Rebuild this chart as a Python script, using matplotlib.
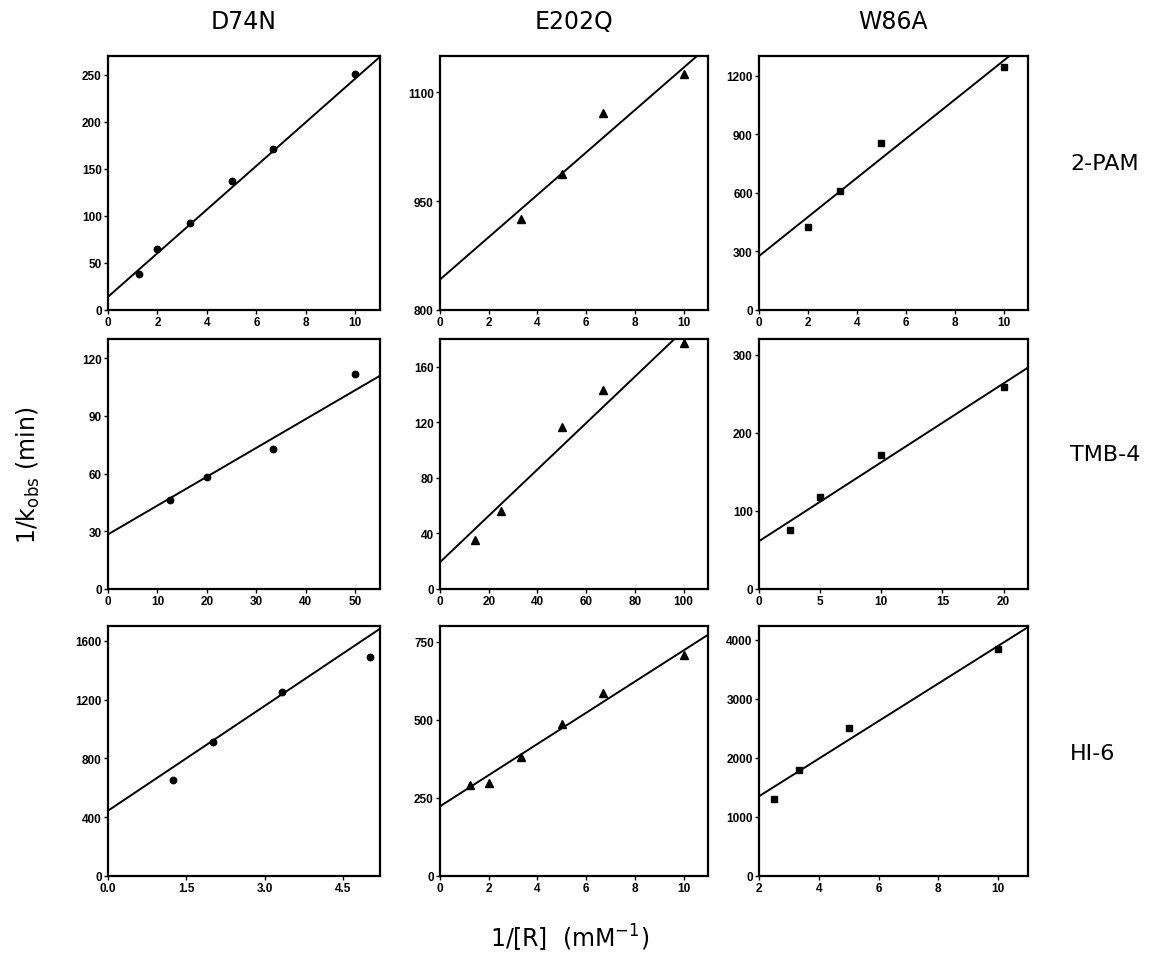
"""Double-reciprocal plots of oxime reactivation for three AChE mutants."""

import matplotlib
matplotlib.use("Agg")
import matplotlib.pyplot as plt  # noqa: E402
import numpy as np  # noqa: E402

MUTANTS = ["D74N", "E202Q", "W86A"]
OXIMES = ["2-PAM", "TMB-4", "HI-6"]

# 1/[R] (mM^-1) and 1/k_obs (min)
d74n_2pam_x = [1.25, 2, 3.33, 5, 6.67, 10]
d74n_2pam_y = [38, 65, 93, 137, 171, 251]
e202q_2pam_x = [3.33, 5, 6.67, 10]
e202q_2pam_y = [926, 988, 1071, 1125]
w86a_2pam_x = [2, 3.33, 5, 10]
w86a_2pam_y = [426, 609, 855, 1245]

d74n_tmb4_x = [12.5, 20, 33.3, 50]
d74n_tmb4_y = [46.5, 58.5, 73, 112]
e202q_tmb4_x = [14.3, 25, 50, 66.7, 100]
e202q_tmb4_y = [35, 56.5, 116.5, 143, 177]
w86a_tmb4_x = [2.5, 5, 10, 20]
w86a_tmb4_y = [76, 118, 172, 259]

d74n_hi6_x = [1.25, 2, 3.33, 5]
d74n_hi6_y = [656, 914, 1252, 1490]
e202q_hi6_x = [1.25, 2, 3.33, 5, 6.67, 10]
e202q_hi6_y = [290, 297, 382, 486, 585, 707]
w86a_hi6_x = [2.5, 3.33, 5, 10]
w86a_hi6_y = [1310, 1795, 2510, 3840]

# regression lines as drawn: (intercept, slope)
fits = {
    ("D74N", "2-PAM"): (14, 23.2),
    ("E202Q", "2-PAM"): (842, 29.2),
    ("W86A", "2-PAM"): (276, 100),
    ("D74N", "TMB-4"): (28.4, 1.50),
    ("E202Q", "TMB-4"): (19.3, 1.67),
    ("W86A", "TMB-4"): (61.2, 10.1),
    ("D74N", "HI-6"): (444, 238),
    ("E202Q", "HI-6"): (223, 49.9),
    ("W86A", "HI-6"): (713, 318),
}

points = {
    ("D74N", "2-PAM"): (d74n_2pam_x, d74n_2pam_y),
    ("E202Q", "2-PAM"): (e202q_2pam_x, e202q_2pam_y),
    ("W86A", "2-PAM"): (w86a_2pam_x, w86a_2pam_y),
    ("D74N", "TMB-4"): (d74n_tmb4_x, d74n_tmb4_y),
    ("E202Q", "TMB-4"): (e202q_tmb4_x, e202q_tmb4_y),
    ("W86A", "TMB-4"): (w86a_tmb4_x, w86a_tmb4_y),
    ("D74N", "HI-6"): (d74n_hi6_x, d74n_hi6_y),
    ("E202Q", "HI-6"): (e202q_hi6_x, e202q_hi6_y),
    ("W86A", "HI-6"): (w86a_hi6_x, w86a_hi6_y),
}

# axis setup per panel: xlim, xticks, ylim, yticks
axis_cfg = {
    ("D74N", "2-PAM"): ((0, 11), [0, 2, 4, 6, 8, 10], (0, 270), [0, 50, 100, 150, 200, 250]),
    ("E202Q", "2-PAM"): ((0, 11), [0, 2, 4, 6, 8, 10], (800, 1150), [800, 950, 1100]),
    ("W86A", "2-PAM"): ((0, 11), [0, 2, 4, 6, 8, 10], (0, 1300), [0, 300, 600, 900, 1200]),
    ("D74N", "TMB-4"): ((0, 55), [0, 10, 20, 30, 40, 50], (0, 130), [0, 30, 60, 90, 120]),
    ("E202Q", "TMB-4"): ((0, 110), [0, 20, 40, 60, 80, 100], (0, 180), [0, 40, 80, 120, 160]),
    ("W86A", "TMB-4"): ((0, 22), [0, 5, 10, 15, 20], (0, 320), [0, 100, 200, 300]),
    ("D74N", "HI-6"): ((0, 5.2), [0.0, 1.5, 3.0, 4.5], (0, 1700), [0, 400, 800, 1200, 1600]),
    ("E202Q", "HI-6"): ((0, 11), [0, 2, 4, 6, 8, 10], (0, 800), [0, 250, 500, 750]),
    ("W86A", "HI-6"): ((2, 11), [2, 4, 6, 8, 10], (0, 4230), [0, 1000, 2000, 3000, 4000]),
}

MARKERS = {"D74N": ("o", 4.6), "E202Q": ("^", 5.5), "W86A": ("s", 4.8)}

# panel boxes in pixels (left, right) per column and (top, bottom) per row
W, H = 1153, 970
COLS = [(108, 380), (440, 708), (759, 1028)]
ROWS = [(57, 311), (340, 590), (627, 877)]
ROW_LABEL_Y = [0.58, 0.54, 0.49]  # height of the oxime label within its row

TITLE_FONT = "DejaVu Sans"
TICK_FONT = "Liberation Sans"

fig = plt.figure(figsize=(W / 100, H / 100), dpi=100)

for ri, ox in enumerate(OXIMES):
    for ci, mut in enumerate(MUTANTS):
        l, r = COLS[ci]
        t, b = ROWS[ri]
        ax = fig.add_axes([l / W, 1 - b / H, (r - l) / W, (b - t) / H])
        xs, ys = points[(mut, ox)]
        mk, ms = MARKERS[mut]
        ax.plot(xs, ys, linestyle="none", marker=mk, ms=ms, color="black")
        xlim, xticks, ylim, yticks = axis_cfg[(mut, ox)]
        a, k = fits[(mut, ox)]
        xl = np.linspace(xlim[0], xlim[1], 50)
        ax.plot(xl, a + k * xl, color="black", lw=1.4)
        ax.set_xlim(*xlim)
        ax.set_ylim(*ylim)
        ax.set_xticks(xticks)
        ax.set_yticks(yticks)
        if mut == "D74N" and ox == "HI-6":
            ax.set_xticklabels([f"{v:.1f}" for v in xticks])
        for lab in ax.get_xticklabels() + ax.get_yticklabels():
            lab.set_fontfamily(TICK_FONT)
            lab.set_fontweight("bold")
            lab.set_fontsize(8.5)
        ax.tick_params(direction="out", length=3, width=1, pad=1.5)
        for sp in ax.spines.values():
            sp.set_linewidth(1.6)
        if ri == 0:
            ax.text(0.5, 1.0 + 35 / (b - t), mut, transform=ax.transAxes,
                    ha="center", va="center", fontsize=17,
                    fontfamily=TITLE_FONT)
        if ci == 2:
            ax.text(1.0 + 42 / (r - l), ROW_LABEL_Y[ri], ox,
                    transform=ax.transAxes, ha="left", va="center",
                    fontsize=16, fontfamily=TITLE_FONT)

fig.text(28 / W, 1 - 475 / H, r"1/k$_{\mathregular{obs}}$ (min)", rotation=90,
         ha="center", va="center", fontsize=17, fontfamily=TITLE_FONT)
fig.text(570 / W, 1 - 938 / H, r"1/[R]  (mM$^{\mathregular{-1}}$)",
         ha="center", va="center", fontsize=17, fontfamily=TITLE_FONT)

fig.savefig("out.png", dpi=100)
